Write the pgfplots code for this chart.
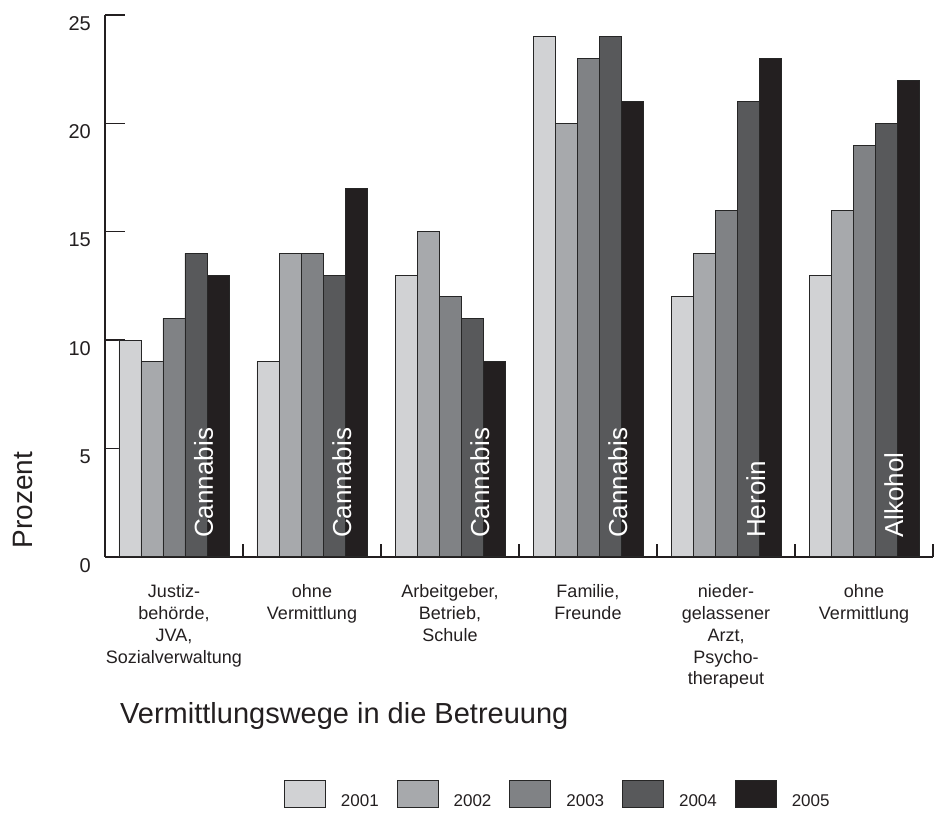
\documentclass[border=0pt]{standalone}
\usepackage{pgfplots}
\pgfplotsset{compat=1.18}
\usepackage{fontspec}
\setmainfont{Liberation Sans}
\definecolor{cA}{HTML}{D1D2D4}
\definecolor{cB}{HTML}{A7A9AC}
\definecolor{cC}{HTML}{808285}
\definecolor{cD}{HTML}{58595B}
\definecolor{cE}{HTML}{231F20}
\definecolor{txt}{HTML}{231F20}
\pgfplotsset{
  mybar/.style={fill=#1, draw=black!85, line width=0.9pt,
    legend image code/.code={\draw[##1] (0pt,0pt) rectangle (41pt,27pt);}},
}
\begin{document}
\begin{tikzpicture}
\begin{axis}[
  at={(0pt,0pt)}, anchor=south west,
  scale only axis, width=828pt, height=541.7pt,
  xmin=-0.5, xmax=5.5, ymin=0, ymax=25,
  enlargelimits=false, clip=false,
  axis x line*=bottom, axis y line*=left,
  axis line style={-, line width=2pt, draw=txt},
  ybar=0pt, bar width=22pt,
  tick align=inside,
  major tick length=20pt, minor tick length=13pt,
  tick style={line width=1.6pt, draw=txt},
  xtick={0,1,2,3,4,5},
  minor xtick={0.5,1.5,2.5,3.5,4.5,5.5},
  xticklabels={{Justiz-\\behörde,\\JVA,\\Sozialverwaltung},{ohne\\Vermittlung},{Arbeitgeber,\\Betrieb,\\Schule},{Familie,\\Freunde},{nieder-\\gelassener\\Arzt,\\Psycho-\\therapeut},{ohne\\Vermittlung}},
  xticklabel style={align=center, anchor=north, inner sep=0pt, yshift=-28pt, font=\fontsize{18}{21.7}\selectfont, text=txt},
  ytick={0,5,10,15,20,25},
  yticklabel style={anchor=east, inner sep=0pt, xshift=-14pt, yshift=-8.5pt, font=\fontsize{20}{24}\selectfont, text=txt},
  /pgf/number format/assume math mode=true,
  xlabel={Vermittlungswege in die Betreuung},
  xlabel style={at={(axis description cs:0.01812,-0.307)}, anchor=base west, inner sep=0pt, font=\fontsize{29}{34}\selectfont, text=txt},
  ylabel={Prozent},
  ylabel style={at={(axis description cs:-0.087,0.1047)}, anchor=base, rotate=0, inner sep=0pt, font=\fontsize{28}{32}\selectfont, text=txt},
  legend columns=5,
  legend style={at={(axis description cs:0.2162,-0.4685)}, anchor=south west, draw=none, fill=none,
    inner sep=0pt, outer sep=0pt, font=\fontsize{17}{20}\selectfont, text=txt,
    cells={anchor=base west},
    /tikz/every odd column/.append style={column sep=13pt},
    /tikz/every even column/.append style={column sep=16pt}},
]
\addplot[mybar=cA] coordinates {(0,10) (1,9) (2,13) (3,24) (4,12) (5,13)};
\addplot[mybar=cB] coordinates {(0,9) (1,14) (2,15) (3,20) (4,14) (5,16)};
\addplot[mybar=cC] coordinates {(0,11) (1,14) (2,12) (3,23) (4,16) (5,19)};
\addplot[mybar=cD] coordinates {(0,14) (1,13) (2,11) (3,24) (4,21) (5,20)};
\addplot[mybar=cE] coordinates {(0,13) (1,17) (2,9) (3,21) (4,23) (5,22)};
\legend{2001,2002,2003,2004,2005}
\node[rotate=90, anchor=base west, inner sep=0pt, text=white, font=\fontsize{26}{30}\selectfont] at (axis cs:0.2826,0.863) {Cannabis};
\node[rotate=90, anchor=base west, inner sep=0pt, text=white, font=\fontsize{26}{30}\selectfont] at (axis cs:1.2826,0.863) {Cannabis};
\node[rotate=90, anchor=base west, inner sep=0pt, text=white, font=\fontsize{26}{30}\selectfont] at (axis cs:2.2826,0.863) {Cannabis};
\node[rotate=90, anchor=base west, inner sep=0pt, text=white, font=\fontsize{26}{30}\selectfont] at (axis cs:3.2826,0.863) {Cannabis};
\node[rotate=90, anchor=base west, inner sep=0pt, text=white, font=\fontsize{26}{30}\selectfont] at (axis cs:4.2826,0.863) {Heroin};
\node[rotate=90, anchor=base west, inner sep=0pt, text=white, font=\fontsize{26}{30}\selectfont] at (axis cs:5.2826,0.863) {Alkohol};
\end{axis}
\pgfresetboundingbox
\path[use as bounding box] (-105pt,-257.3pt) rectangle (844pt,556.7pt);
\end{tikzpicture}
\end{document}
